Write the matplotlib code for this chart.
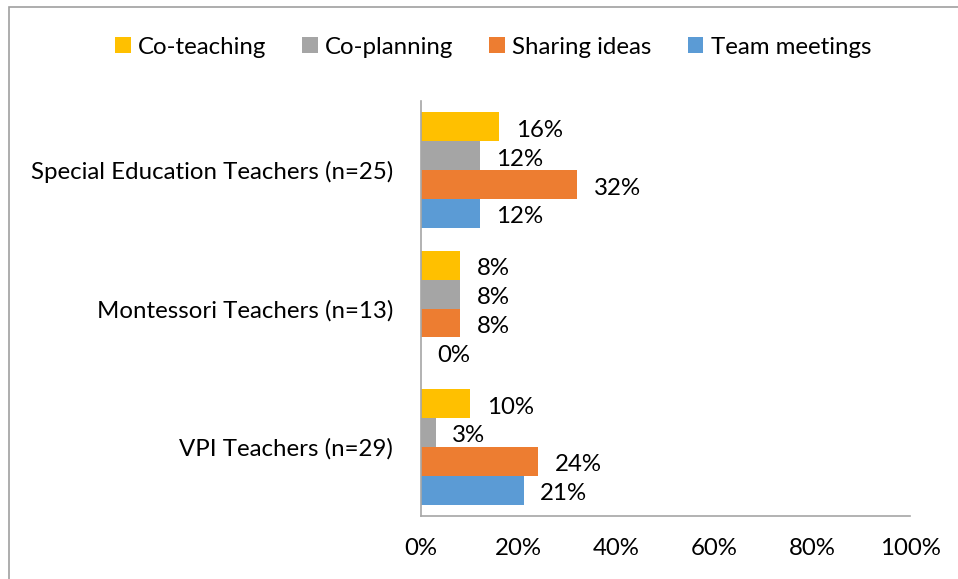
import matplotlib
matplotlib.use("Agg")
import matplotlib.pyplot as plt
from matplotlib.patches import Rectangle, Patch
from matplotlib.ticker import FuncFormatter

categories = ["Special Education Teachers (n=25)", "Montessori Teachers (n=13)", "VPI Teachers (n=29)"]
series_names = ["Co-teaching", "Co-planning", "Sharing ideas", "Team meetings"]
co_teaching = [16, 8, 10]
co_planning = [12, 8, 3]
sharing_ideas = [32, 8, 24]
team_meetings = [12, 0, 21]
colors = ["#FFC000", "#A5A5A5", "#ED7D31", "#5B9BD5"]
xticks = [0, 20, 40, 60, 80, 100]

series = [co_teaching, co_planning, sharing_ideas, team_meetings]

plt.rcParams['font.family'] = ['Lato', 'DejaVu Sans']
fig = plt.figure(figsize=(9.58, 5.79), dpi=100)
ax = fig.add_axes([421/958, 1-516/579, (910-421)/958, (516-101)/579])

FS = 17.3
n = len(categories)
bh = 0.2086
for s, (vals, col, name) in enumerate(zip(series, colors, series_names)):
    ys = [(n - 1 - i) + (1.5 - s) * bh for i in range(n)]
    ax.barh(ys, vals, height=bh, color=col, label=name)
    for y, v in zip(ys, vals):
        ax.annotate(f"{v}%", (v, y), xytext=(12, -2.5), textcoords="offset points",
                    va="center", ha="left", fontsize=FS, color="#000000")

ax.set_xlim(0, 100)
ax.set_ylim(-0.5, n - 0.5)
ax.set_yticks(range(n))
ax.set_yticklabels(categories[::-1], fontsize=FS)
ax.set_xticks(xticks)
ax.xaxis.set_major_formatter(FuncFormatter(lambda v, p: f"{int(v)}%"))
ax.tick_params(axis='x', labelsize=FS, length=0, pad=16)
ax.tick_params(axis='y', length=0, pad=20)
for sp in ["top", "right"]:
    ax.spines[sp].set_visible(False)
for sp in ["left", "bottom"]:
    ax.spines[sp].set_color("#A6A6A6")
    ax.spines[sp].set_linewidth(1.2)

handles = [Patch(facecolor=c, edgecolor='none', label=nm) for c, nm in zip(colors, series_names)]
fig.legend(handles=handles, loc="center", bbox_to_anchor=(493/958, 1-47/579), ncol=4,
           frameon=False, fontsize=FS, handlelength=0.65, handleheight=0.65,
           handletextpad=0.3, columnspacing=1.5)

fig.add_artist(Rectangle((9/958, -0.1), 1.2, 1 - 7/579 + 0.1, transform=fig.transFigure,
                         fill=False, edgecolor="#A0A0A0", linewidth=1.2))

fig.savefig("out.png", dpi=100)
